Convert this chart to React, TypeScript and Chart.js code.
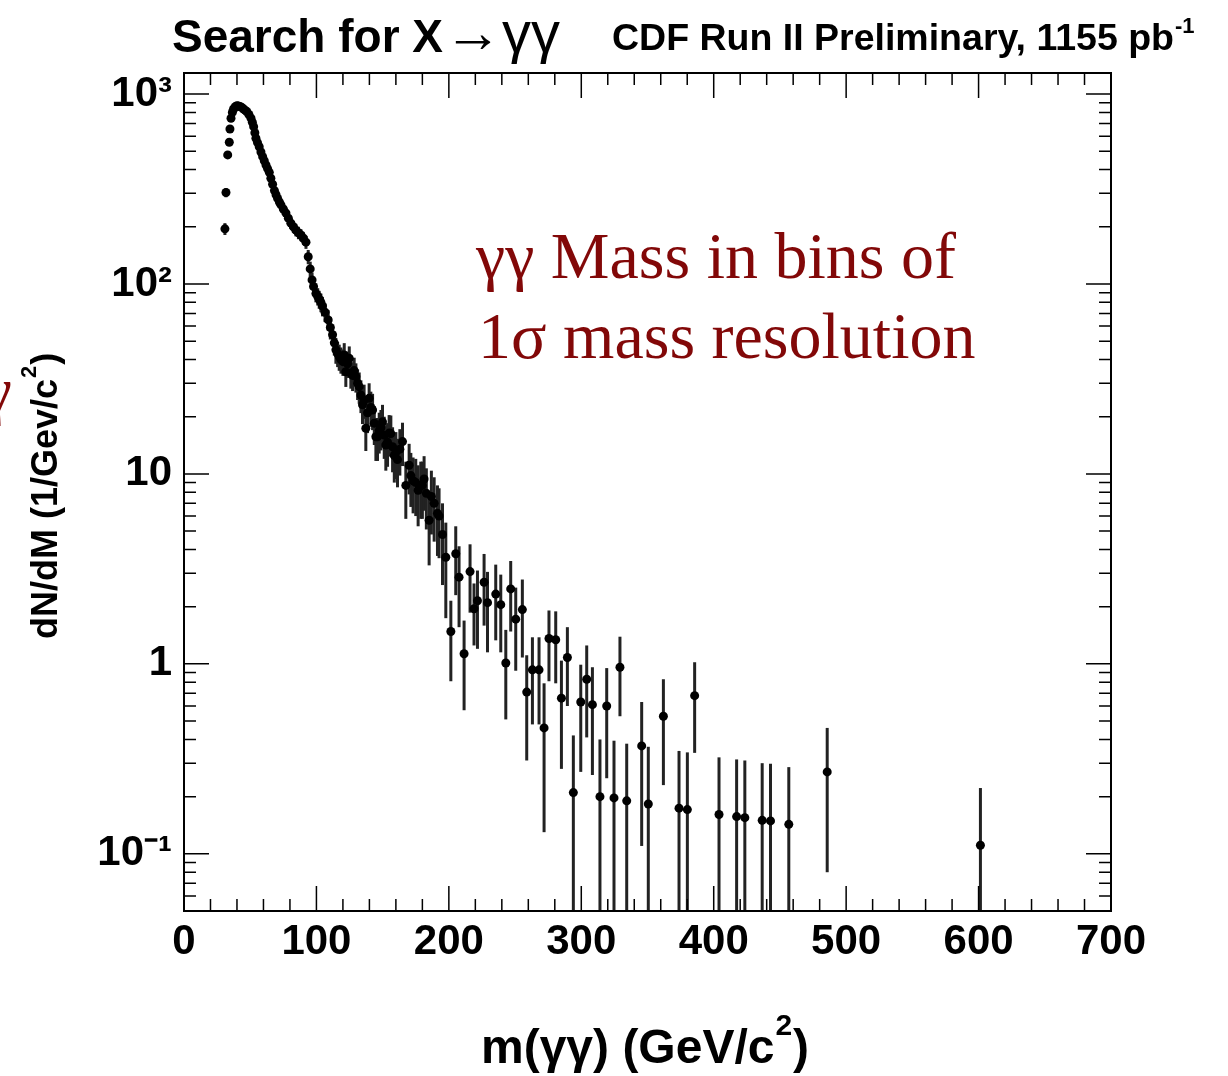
import React, { useEffect, useRef } from "react";
import { Chart, registerables } from "chart.js";

Chart.register(...registerables);

// ---------------- data ----------------
const massValues = [
  30.9, 31.7, 33.0, 34.2, 34.7, 35.5, 36.5, 37.3, 38.0, 39.0,
  40.0, 41.0, 42.0, 43.0, 44.0, 45.0, 46.3, 47.5, 49.0, 50.6,
  51.6, 52.6, 53.5, 54.3, 55.5, 56.8, 58.1, 59.4, 60.6, 61.9,
  63.1, 64.4, 65.6, 66.9, 68.3, 69.5, 70.7, 72.0, 73.2, 75.0,
  77.0, 78.8, 80.7, 82.6, 84.5, 86.4, 88.3, 90.2, 92.1, 93.8,
  95.3, 96.7, 97.8, 99.6, 101.0, 102.1, 103.4, 104.6, 106.5, 108.9,
  110.5, 112.2, 113.5, 114.7, 116.0, 117.2, 118.5, 120.0, 121.0, 122.2,
  123.5, 124.8, 126.0, 127.3, 128.5, 129.8, 131.1, 132.3, 133.6, 134.8,
  136.0, 137.3, 138.6, 139.8, 141.1, 142.4, 143.7, 144.9, 146.1, 147.4,
  148.7, 149.9, 151.2, 152.4, 153.7, 154.9, 156.2, 157.5, 158.8, 160.0,
  161.2, 163.0, 165.0, 167.5, 170.0, 171.3, 173.0, 175.0, 176.8, 178.8,
  180.0, 181.3, 183.0, 185.1, 186.8, 188.9, 191.4, 192.6, 195.2, 197.7,
  201.5, 205.2, 207.7, 211.5, 216.0, 219.0, 221.6, 226.6, 229.2, 235.4,
  239.2, 243.0, 246.7, 250.5, 255.5, 258.8, 263.1, 268.1, 271.9, 275.6,
  280.7, 285.0, 289.5, 294.0, 299.6, 304.1, 308.4, 314.1, 319.2, 324.7,
  329.2, 334.3, 345.6, 350.6, 362.0, 373.8, 380.1, 385.6, 404.0, 417.3,
  423.5, 436.6, 442.9, 456.7, 485.7, 601.4,
];

const dNdM = [
  195, 303, 478, 557, 654, 745, 800, 830, 845, 860,
  868, 865, 860, 855, 845, 834, 820, 807, 780, 745,
  710, 673, 625, 585, 555, 528, 495, 468, 445, 423,
  405, 387, 360, 335, 310, 295, 282, 270, 261, 248,
  236, 222, 209, 200, 192, 186, 181, 174, 166, 139,
  120, 105, 97, 89, 86, 83, 80, 76.5, 71, 64.7,
  59, 54, 49, 45, 43, 41.4, 40, 39, 42.3, 34.5,
  38, 40.6, 33.9, 33, 35, 32.5, 30, 28.8, 26, 23.1,
  24.5, 17.4, 21, 25, 22.4, 21.7, 18.5, 15.7, 15.7, 16.9,
  17.5, 18.8, 16, 14.2, 14.7, 16.4, 16.3, 13.9, 12.5, 13,
  11.9, 13.5, 14.8, 8.7, 11.1, 9.8, 9.2, 9.0, 8.2, 8.7,
  8.7, 9.4, 7.9, 5.7, 7.6, 7.0, 6.2, 6.0, 4.8, 3.64,
  1.48, 3.8, 2.86, 1.13, 3.06, 1.95, 2.15, 2.69, 2.1, 2.33,
  2.05, 1.01, 2.48, 1.72, 1.93, 0.71, 0.93, 0.93, 0.46, 1.36,
  1.34, 0.66, 1.08, 0.21, 0.63, 0.83, 0.61, 0.2, 0.6, 0.197,
  0.96, 0.19, 0.37, 0.183, 0.53, 0.174, 0.171, 0.68, 0.161, 0.157,
  0.155, 0.15, 0.149, 0.143, 0.27, 0.111,
];

const dNdMError = [
  14, 17, 22, 24, 26, 27, 28, 29, 29, 29,
  29, 29, 29, 29, 29, 29, 28, 28, 28, 27,
  26, 26, 25, 24, 23, 23, 22, 22, 21, 21,
  20, 20, 19, 18, 18, 17, 17, 16, 16, 16,
  15, 15, 14, 14, 14, 14, 13, 13, 13, 12,
  11, 10, 10, 9, 9, 9, 9, 9, 8, 8,
  8, 7, 7, 7, 6.5, 6.5, 6.3, 6.2, 6.5, 5.8,
  6, 6.3, 5.8, 5.7, 5.9, 5.7, 5.5, 5.4, 5.1, 4.8,
  5, 4.2, 4.6, 5, 4.7, 4.7, 4.3, 4, 4, 4.1,
  4.2, 4.3, 4, 3.8, 3.8, 4, 4, 3.7, 3.5, 3.6,
  3.4, 3.7, 3.8, 2.9, 3.3, 3.1, 3, 3, 2.9, 2.9,
  2.9, 3, 2.8, 2.4, 2.8, 2.6, 2.5, 2.4, 2.2, 1.9,
  0.67, 1.5, 1.3, 0.56, 1.2, 0.7, 0.95, 1.1, 0.95, 1.0,
  0.9, 0.5, 1.0, 0.8, 0.85, 0.4, 0.45, 0.45, 0.33, 0.55,
  0.55, 0.38, 0.48, 0.21, 0.36, 0.42, 0.35, 0.2, 0.35, 0.197,
  0.43, 0.19, 0.26, 0.183, 0.3, 0.174, 0.171, 0.34, 0.161, 0.157,
  0.155, 0.15, 0.149, 0.143, 0.19, 0.111,
];

const xTickValues = [0, 100, 200, 300, 400, 500, 600, 700];
const yTickValues = [0.1, 1, 10, 100, 1000];
const yTickLabels = ["10⁻¹", "1", "10", "10²", "10³"];

const titleMain = "Search for X";
const titleArrow = "→γγ";
const titleRight = "CDF Run II Preliminary, 1155 pb";
const titleRightSup = "-1";
const xTitle = "m(γγ) (GeV/c";
const yTitle = "dN/dM (1/Gev/c";
const noteLine1 = "γγ Mass in bins of";
const noteLine2 = "1σ mass resolution";

const SANS = "'Liberation Sans', Arial, Helvetica, sans-serif";
const SERIF = "'Liberation Serif', 'Times New Roman', serif";
const RED = "#820808";

function drawSup(
  ctx: CanvasRenderingContext2D,
  base: string,
  sup: string,
  tail: string,
  x: number,
  y: number,
  font: string,
  supFont: string,
  rise: number
) {
  ctx.font = font;
  ctx.fillText(base, x, y);
  let cx = x + ctx.measureText(base).width + 1;
  ctx.font = supFont;
  ctx.fillText(sup, cx, y - rise);
  cx += ctx.measureText(sup).width + 1;
  if (tail) {
    ctx.font = font;
    ctx.fillText(tail, cx, y);
  }
}

const errorBarPlugin = {
  id: "errorBars",
  beforeDatasetsDraw(chart: any) {
    const { ctx, chartArea } = chart;
    const x = chart.scales.x;
    const y = chart.scales.y;
    ctx.save();
    ctx.beginPath();
    ctx.rect(chartArea.left, chartArea.top, chartArea.right - chartArea.left, chartArea.bottom - chartArea.top);
    ctx.clip();
    ctx.strokeStyle = "#222";
    ctx.lineWidth = 3;
    massValues.forEach((m, i) => {
      const v = dNdM[i];
      const e = dNdMError[i];
      const px = x.getPixelForValue(m);
      const hi = y.getPixelForValue(v + e);
      const lo = v - e > y.min ? y.getPixelForValue(v - e) : chartArea.bottom;
      ctx.beginPath();
      ctx.moveTo(px, hi);
      ctx.lineTo(px, lo);
      ctx.stroke();
    });
    ctx.restore();
  },
};

const framePlugin = {
  id: "frameTicks",
  afterDatasetsDraw(chart: any) {
    const { ctx, chartArea } = chart;
    const { left, right, top, bottom } = chartArea;
    const x = chart.scales.x;
    const y = chart.scales.y;
    ctx.save();
    ctx.strokeStyle = "#000";
    ctx.lineWidth = 2;
    ctx.strokeRect(left, top, right - left, bottom - top);
    ctx.lineWidth = 1.5;
    ctx.beginPath();
    for (let i = 0; i < xTickValues.length; i++) {
      const v = xTickValues[i];
      const px = x.getPixelForValue(v);
      ctx.moveTo(px, bottom);
      ctx.lineTo(px, bottom - 25);
      ctx.moveTo(px, top);
      ctx.lineTo(px, top + 25);
      if (i < xTickValues.length - 1) {
        const step = (xTickValues[i + 1] - v) / 5;
        for (let k = 1; k < 5; k++) {
          const mx = x.getPixelForValue(v + k * step);
          ctx.moveTo(mx, bottom);
          ctx.lineTo(mx, bottom - 12);
          ctx.moveTo(mx, top);
          ctx.lineTo(mx, top + 12);
        }
      }
    }
    for (let d = 0.01; d <= 1000.5; d *= 10) {
      for (let k = 1; k <= 9; k++) {
        const v = d * k;
        if (v < y.min || v > y.max) continue;
        const py = y.getPixelForValue(v);
        const len = k === 1 ? 25 : 12;
        ctx.moveTo(left, py);
        ctx.lineTo(left + len, py);
        ctx.moveTo(right, py);
        ctx.lineTo(right - len, py);
      }
    }
    ctx.stroke();
    ctx.restore();
  },
  afterDraw(chart: any) {
    const { ctx } = chart;
    ctx.save();
    ctx.fillStyle = "#000";
    ctx.textAlign = "left";
    ctx.textBaseline = "alphabetic";
    // title
    ctx.font = `bold 46px ${SANS}`;
    ctx.fillText(titleMain, 172, 52);
    const w = ctx.measureText(titleMain).width;
    ctx.font = `58px ${SANS}`;
    ctx.fillText(titleArrow, 172 + w + 1, 52);
    drawSup(ctx, titleRight, titleRightSup, "", 612, 50, `bold 37.5px ${SANS}`, `bold 22px ${SANS}`, 17);
    // x title
    drawSup(ctx, xTitle, "2", ")", 481, 1063, `bold 48px ${SANS}`, `bold 30px ${SANS}`, 28);
    // y title
    ctx.save();
    ctx.translate(57, 639);
    ctx.rotate(-Math.PI / 2);
    drawSup(ctx, yTitle, "2", ")", 0, 0, `bold 36px ${SANS}`, `bold 22px ${SANS}`, 21);
    ctx.restore();
    // annotation
    ctx.fillStyle = RED;
    ctx.font = `66px ${SERIF}`;
    ctx.fillText(noteLine1, 476, 278);
    ctx.fillText(noteLine2, 478, 358);
    ctx.textAlign = "right";
    ctx.fillText("γ", 12, 412);
    ctx.restore();
  },
};

export default function App() {
  const canvasRef = useRef<HTMLCanvasElement | null>(null);

  useEffect(() => {
    if (!canvasRef.current) return;
    const chart = new Chart(canvasRef.current, {
      type: "scatter",
      data: {
        datasets: [
          {
            data: massValues.map((m, i) => ({ x: m, y: dNdM[i] })),
            pointRadius: 4.5,
            pointHoverRadius: 4.5,
            backgroundColor: "#000",
            borderColor: "#000",
            borderWidth: 0,
            showLine: false,
          },
        ],
      },
      options: {
        animation: false,
        responsive: false,
        devicePixelRatio: 1,
        layout: { padding: { left: 0, top: 73, right: 117, bottom: 0 } },
        plugins: { legend: { display: false }, tooltip: { enabled: false }, title: { display: false } },
        scales: {
          x: {
            type: "linear",
            min: 0,
            max: 700,
            grid: { display: false, drawTicks: false },
            border: { display: false },
            afterBuildTicks: (s: any) => {
              s.ticks = xTickValues.map((v) => ({ value: v }));
            },
            afterFit: (s: any) => {
              s.height = 165;
            },
            ticks: {
              autoSkip: false,
              maxRotation: 0,
              padding: 6,
              color: "#000",
              font: { family: SANS, size: 42, weight: "bold" },
            },
          },
          y: {
            type: "logarithmic",
            min: 0.05,
            max: 1290,
            grid: { display: false, drawTicks: false },
            border: { display: false },
            afterBuildTicks: (s: any) => {
              s.ticks = yTickValues.map((v) => ({ value: v }));
            },
            afterFit: (s: any) => {
              s.width = 184;
            },
            ticks: {
              autoSkip: false,
              padding: 12,
              color: "#000",
              font: { family: SANS, size: 42, weight: "bold" },
              callback: (_v: any, i: number) => yTickLabels[i],
            },
          },
        },
      } as any,
      plugins: [errorBarPlugin, framePlugin],
    });
    return () => chart.destroy();
  }, []);

  return (
    <div style={{ position: "absolute", left: 0, top: 0, width: 1228, height: 1076, background: "#fff" }}>
      <canvas ref={canvasRef} width={1228} height={1076} style={{ display: "block" }} />
    </div>
  );
}
